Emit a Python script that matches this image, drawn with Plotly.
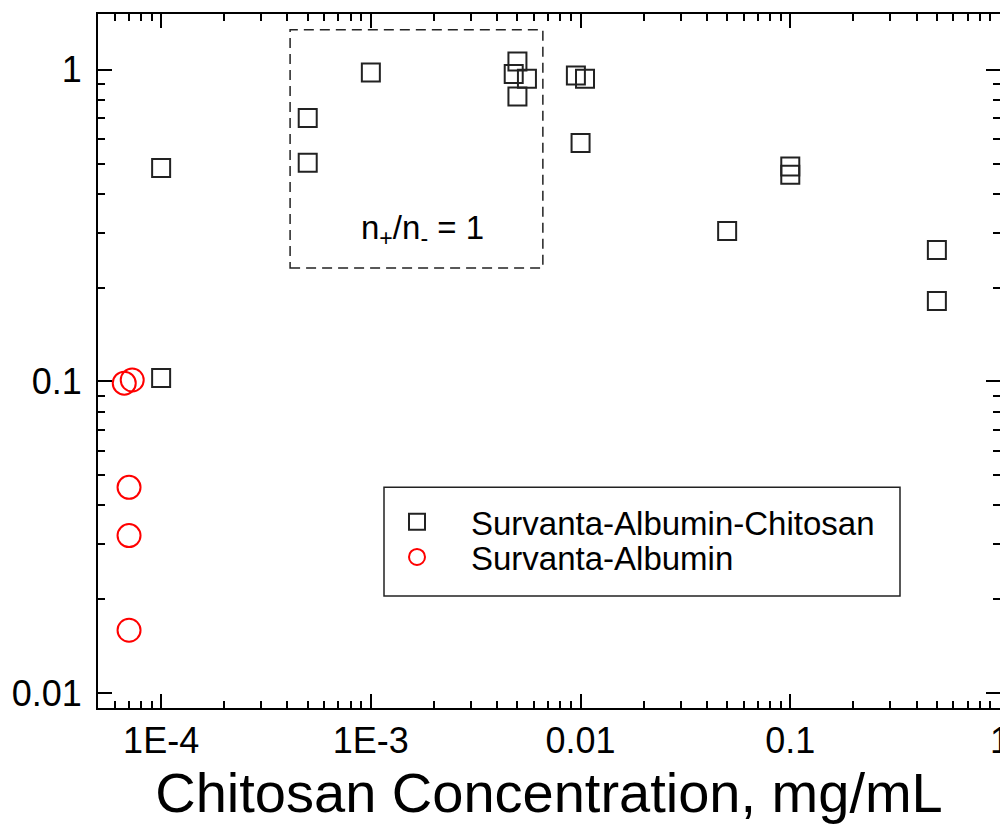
import math
import plotly.graph_objects as go

# ---------------- data ----------------
sac_x = [1e-4, 1e-4, 5e-4, 5e-4, 1e-3, 5.0e-3, 4.8e-3, 5.55e-3, 5.0e-3,
         9.5e-3, 1.05e-2, 1.0e-2, 0.1, 0.1, 0.05, 0.5, 0.5]
sac_y = [0.484, 0.1026, 0.70, 0.503, 0.98, 1.063, 0.969, 0.936, 0.821,
         0.959, 0.936, 0.582, 0.489, 0.460, 0.304, 0.264, 0.181]

sa_x = [6.67e-5, 7.28e-5, 7.03e-5, 7.03e-5, 7.03e-5]
sa_y = [0.0987, 0.101, 0.0457, 0.032, 0.0159]

x_tickvals = [1e-4, 1e-3, 1e-2, 1e-1, 1]
x_ticktext = ["1E-4", "1E-3", "0.01", "0.1", "1"]
y_tickvals = [0.01, 0.1, 1]
y_ticktext = ["0.01", "0.1", "1"]

name_sac = "Survanta-Albumin-Chitosan"
name_sa = "Survanta-Albumin"
box_label = "n<sub>+</sub>/n<sub>-</sub> = 1"
x_title = "Chitosan Concentration, mg/mL"

# ---------------- layout helpers ----------------
# The page body has an 8px margin, so the figure sits at (8, 8) on screen.
OFF = 8
W, H = 1000, 824
ML, MR, MT, MB = 90, 8, 6, 124
PW, PH = W - ML - MR, H - MT - MB


def px(xs):
    """screen x -> paper x"""
    return (xs - OFF - ML) / PW


def py(ys):
    """screen y -> paper y"""
    return (H - MB - (ys - OFF)) / PH


def minor_vals(lo_exp, hi_exp):
    vals = []
    for e in range(lo_exp, hi_exp):
        for d in range(2, 10):
            vals.append(d * 10 ** e)
    return vals


FONT = "Liberation Sans, Arial, sans-serif"

fig = go.Figure()
fig.add_trace(go.Scatter(
    x=sac_x, y=sac_y, mode="markers", name=name_sac,
    marker=dict(symbol="square-open", size=18, color="#222222",
                line=dict(width=2, color="#222222")),
    legend="legend",
))
fig.add_trace(go.Scatter(
    x=sa_x, y=sa_y, mode="markers", name=name_sa,
    marker=dict(symbol="circle-open", size=23, color="#ff0000",
                line=dict(width=2, color="#ff0000")),
    legend="legend2",
))

axis_common = dict(
    type="log",
    showline=True, linewidth=2, linecolor="black",
    mirror="ticks",
    ticks="inside", ticklen=14, tickwidth=2, tickcolor="black",
    showgrid=False, zeroline=False,
    tickfont=dict(family=FONT, size=36, color="black"),
    ticklabeloverflow="allow",
)

fig.update_xaxes(
    **axis_common,
    range=[math.log10(5e-5), 0],
    tickmode="array", tickvals=x_tickvals, ticktext=x_ticktext,
    minor=dict(tickmode="array", tickvals=minor_vals(-5, 0), ticks="inside",
               ticklen=7, tickwidth=1.5, tickcolor="black", showgrid=False),
    title=dict(text=x_title, font=dict(family=FONT, size=56, color="black"),
               standoff=8),
)
fig.update_yaxes(
    **axis_common,
    range=[math.log10(0.00895), math.log10(1.51)],
    tickmode="array", tickvals=y_tickvals, ticktext=y_ticktext,
    ticklabelstandoff=7,
    minor=dict(tickmode="array", tickvals=minor_vals(-3, 1), ticks="inside",
               ticklen=7, tickwidth=1.5, tickcolor="black", showgrid=False),
)

# dashed region box (n+/n- = 1)
fig.add_shape(type="rect", xref="x", yref="y",
              x0=4.12e-4, x1=6.61e-3, y0=0.231, y1=1.343,
              line=dict(color="#222222", width=1.5, dash="10px,6px"),
              fillcolor="rgba(0,0,0,0)", layer="below")
fig.add_annotation(x=math.log10(1.76e-3), y=math.log10(0.305), xref="x", yref="y",
                   text=box_label, showarrow=False,
                   font=dict(family=FONT, size=33, color="black"),
                   xanchor="center", yanchor="middle")

# legend frame
fig.add_shape(type="rect", xref="paper", yref="paper",
              x0=px(384), x1=px(900), y0=py(596), y1=py(487.3),
              line=dict(color="#222222", width=1.5),
              fillcolor="rgba(0,0,0,0)")

legend_common = dict(
    bgcolor="rgba(0,0,0,0)", borderwidth=0,
    font=dict(family=FONT, size=33, color="black"),
    itemwidth=98, xanchor="left", yanchor="top",
)
fig.update_layout(
    width=W, height=H,
    margin=dict(l=ML, r=MR, t=MT, b=MB, autoexpand=False),
    paper_bgcolor="white", plot_bgcolor="white",
    showlegend=True,
    legend=dict(**legend_common, x=px(363), y=py(521.7 - 28)),
    legend2=dict(**legend_common, x=px(363), y=py(557 - 28)),
    font=dict(family=FONT, color="black"),
)

fig.write_html("out.html")
